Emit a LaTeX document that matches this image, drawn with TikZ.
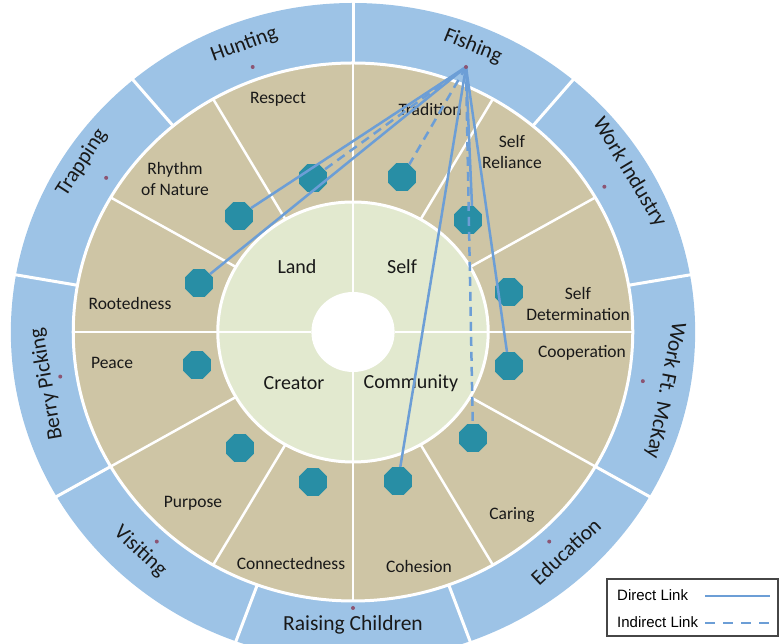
\documentclass[tikz,border=0pt]{standalone}
\usepackage{fontspec}
\setmainfont{Carlito}
\newfontfamily\legendfont{Liberation Sans}
\usetikzlibrary{shapes.geometric}
\definecolor{ringblue}{RGB}{157,195,230}
\definecolor{ringtan}{RGB}{206,197,165}
\definecolor{ringgreen}{RGB}{226,233,207}
\definecolor{octteal}{RGB}{40,142,165}
\definecolor{linkblue}{RGB}{108,158,214}
\definecolor{dotpurple}{RGB}{140,85,115}
\definecolor{txt}{RGB}{25,25,25}
\definecolor{legendgray}{RGB}{70,70,70}
\begin{document}
\begin{tikzpicture}[x=1pt,y=1pt,
  oct/.style={regular polygon, regular polygon sides=8, minimum size=30pt, inner sep=0pt, fill=octteal, draw=none},
  sep/.style={white, line width=2.5pt},
  ringlabel/.style={font=\fontsize{21.5}{25}\selectfont, text=txt, inner sep=0pt},
  tanlabel/.style={font=\fontsize{17.5}{21}\selectfont, text=txt, align=center, inner sep=0pt},
  corelabel/.style={font=\fontsize{20}{24}\selectfont, text=txt, inner sep=0pt},
  legendtext/.style={font=\legendfont\fontsize{15}{18}\selectfont, text=black, inner sep=0pt, anchor=west},
  direct/.style={linkblue, line width=2.5pt},
  indirect/.style={linkblue, line width=2.5pt, dash pattern=on 9pt off 6pt},
  segdot/.style={circle, fill=dotpurple, inner sep=0pt, minimum size=4pt},
]
\useasboundingbox (0,0) rectangle (779,644);
\clip (0,0) rectangle (779,644);
\begin{scope}[shift={(353,312)}, xscale=1.04]
  % rings
  \fill[ringblue] (0,0) circle (329);
  \foreach \a in {90,50,10,-30,-70,-110,-150,170,130}
    \draw[white, line width=3pt] (\a:266) -- (\a:332);
  \fill[ringtan] (0,0) circle (269);
  \draw[white, line width=3pt] (0,0) circle (269);
  \foreach \a in {0,30,...,330}
    \draw[sep] (\a:130) -- (\a:269);
  \fill[ringgreen] (0,0) circle (130);
  \draw[white, line width=3pt] (0,0) circle (130);
  \foreach \a in {0,90,180,270}
    \draw[sep] (\a:40) -- (\a:130);
  \fill[white] (0,0) circle (40);
  % outer ring labels
  \node[ringlabel, rotate=20] (hunting) at (110:306) {Hunting};
  \node[ringlabel, rotate=-22] (fishing) at (68:308) {Fishing};
  \node[ringlabel, rotate=-59] (workind) at (31:310) {Work Industry};
  \node[ringlabel, rotate=-101] (workft) at (-11:306) {Work Ft. McKay};
  \node[ringlabel, rotate=43] (education) at (-47:300) {Education};
  \node[ringlabel] (raising) at (-90:293) {Raising Children};
  \node[ringlabel, rotate=-43] (visiting) at (-133:300) {Visiting};
  \node[ringlabel, rotate=100] (berry) at (190:299) {Berry Picking};
  \node[ringlabel, rotate=57] (trapping) at (147:311) {Trapping};
  % segment dots
  \node[segdot] (dhunt) at (110:282) {};
  \node[segdot] (dwind) at (31:282) {};
  \node[segdot] (dwft) at (-10:283) {};
  \node[segdot] (dedu) at (-48:282) {};
  \node[segdot] (draise) at (-90:276) {};
  \node[segdot] (dvisit) at (-132:282) {};
  \node[segdot] (dberry) at (189:285) {};
  \node[segdot] (dtrap) at (147:283) {};
\end{scope}
% tan labels
\node[tanlabel] (respect) at (278,545) {Respect};
\node[tanlabel] (tradition) at (430,535) {Tradition};
\node[tanlabel] (selfrel) at (512,492) {Self\\Reliance};
\node[tanlabel] (rhythm) at (175,465) {Rhythm\\of Nature};
\node[tanlabel] (rooted) at (130,341) {Rootedness};
\node[tanlabel] (selfdet) at (578,340) {Self\\Determination};
\node[tanlabel] (coop) at (582,291) {Cooperation};
\node[tanlabel] (peace) at (112,281) {Peace};
\node[tanlabel] (caring) at (512,129) {Caring};
\node[tanlabel] (purpose) at (193,141) {Purpose};
\node[tanlabel] (connect) at (291,81) {Connectedness};
\node[tanlabel] (cohesion) at (419,78) {Cohesion};
% core labels
\node[corelabel] (land) at (297,377) {Land};
\node[corelabel] (self) at (402,377) {Self};
\node[corelabel] (creator) at (294,261) {Creator};
\node[corelabel] (community) at (411,261) {Community};
% octagons
\node[oct] (o1) at (239,428) {};
\node[oct] (o2) at (313,466) {};
\node[oct] (o3) at (199,361) {};
\node[oct] (o4) at (402,467) {};
\node[oct] (o5) at (468,424) {};
\node[oct] (o6) at (509,352) {};
\node[oct] (o7) at (509,278) {};
\node[oct] (o8) at (473,206) {};
\node[oct] (o9) at (398,163) {};
\node[oct] (o10) at (313,162) {};
\node[oct] (o11) at (240,196) {};
\node[oct] (o12) at (197,279) {};
% fishing hub
\coordinate (fish) at (466,577);
\draw[direct] (fish) -- (o1);
\draw[direct] (fish) -- (o3);
\draw[indirect] (fish) -- (o2);
\draw[indirect] (fish) -- (o4);
\draw[direct] (fish) -- ([xshift=4pt]o5.north);
\draw[indirect] (fish) -- (o8);
\draw[direct] (fish) -- (o7);
\draw[direct] (fish) -- (o9);
\node[segdot] (dfish) at (fish) {};
% legend
\node[draw=legendgray, line width=1.3pt, fill=white, minimum width=171pt, minimum height=57pt, inner sep=0pt] (legend) at (692.5,36.5) {};
\node[legendtext] (dl) at (617,49) {Direct Link};
\node[legendtext] (il) at (617,22) {Indirect Link};
\coordinate (ds) at (705,48);
\coordinate (de) at (770,48);
\coordinate (is) at (705,21);
\coordinate (ie) at (772,21);
\draw[direct] (ds) -- (de);
\draw[linkblue, line width=2.5pt, dash pattern=on 10pt off 8pt] (is) -- (ie);
\end{tikzpicture}
\end{document}
